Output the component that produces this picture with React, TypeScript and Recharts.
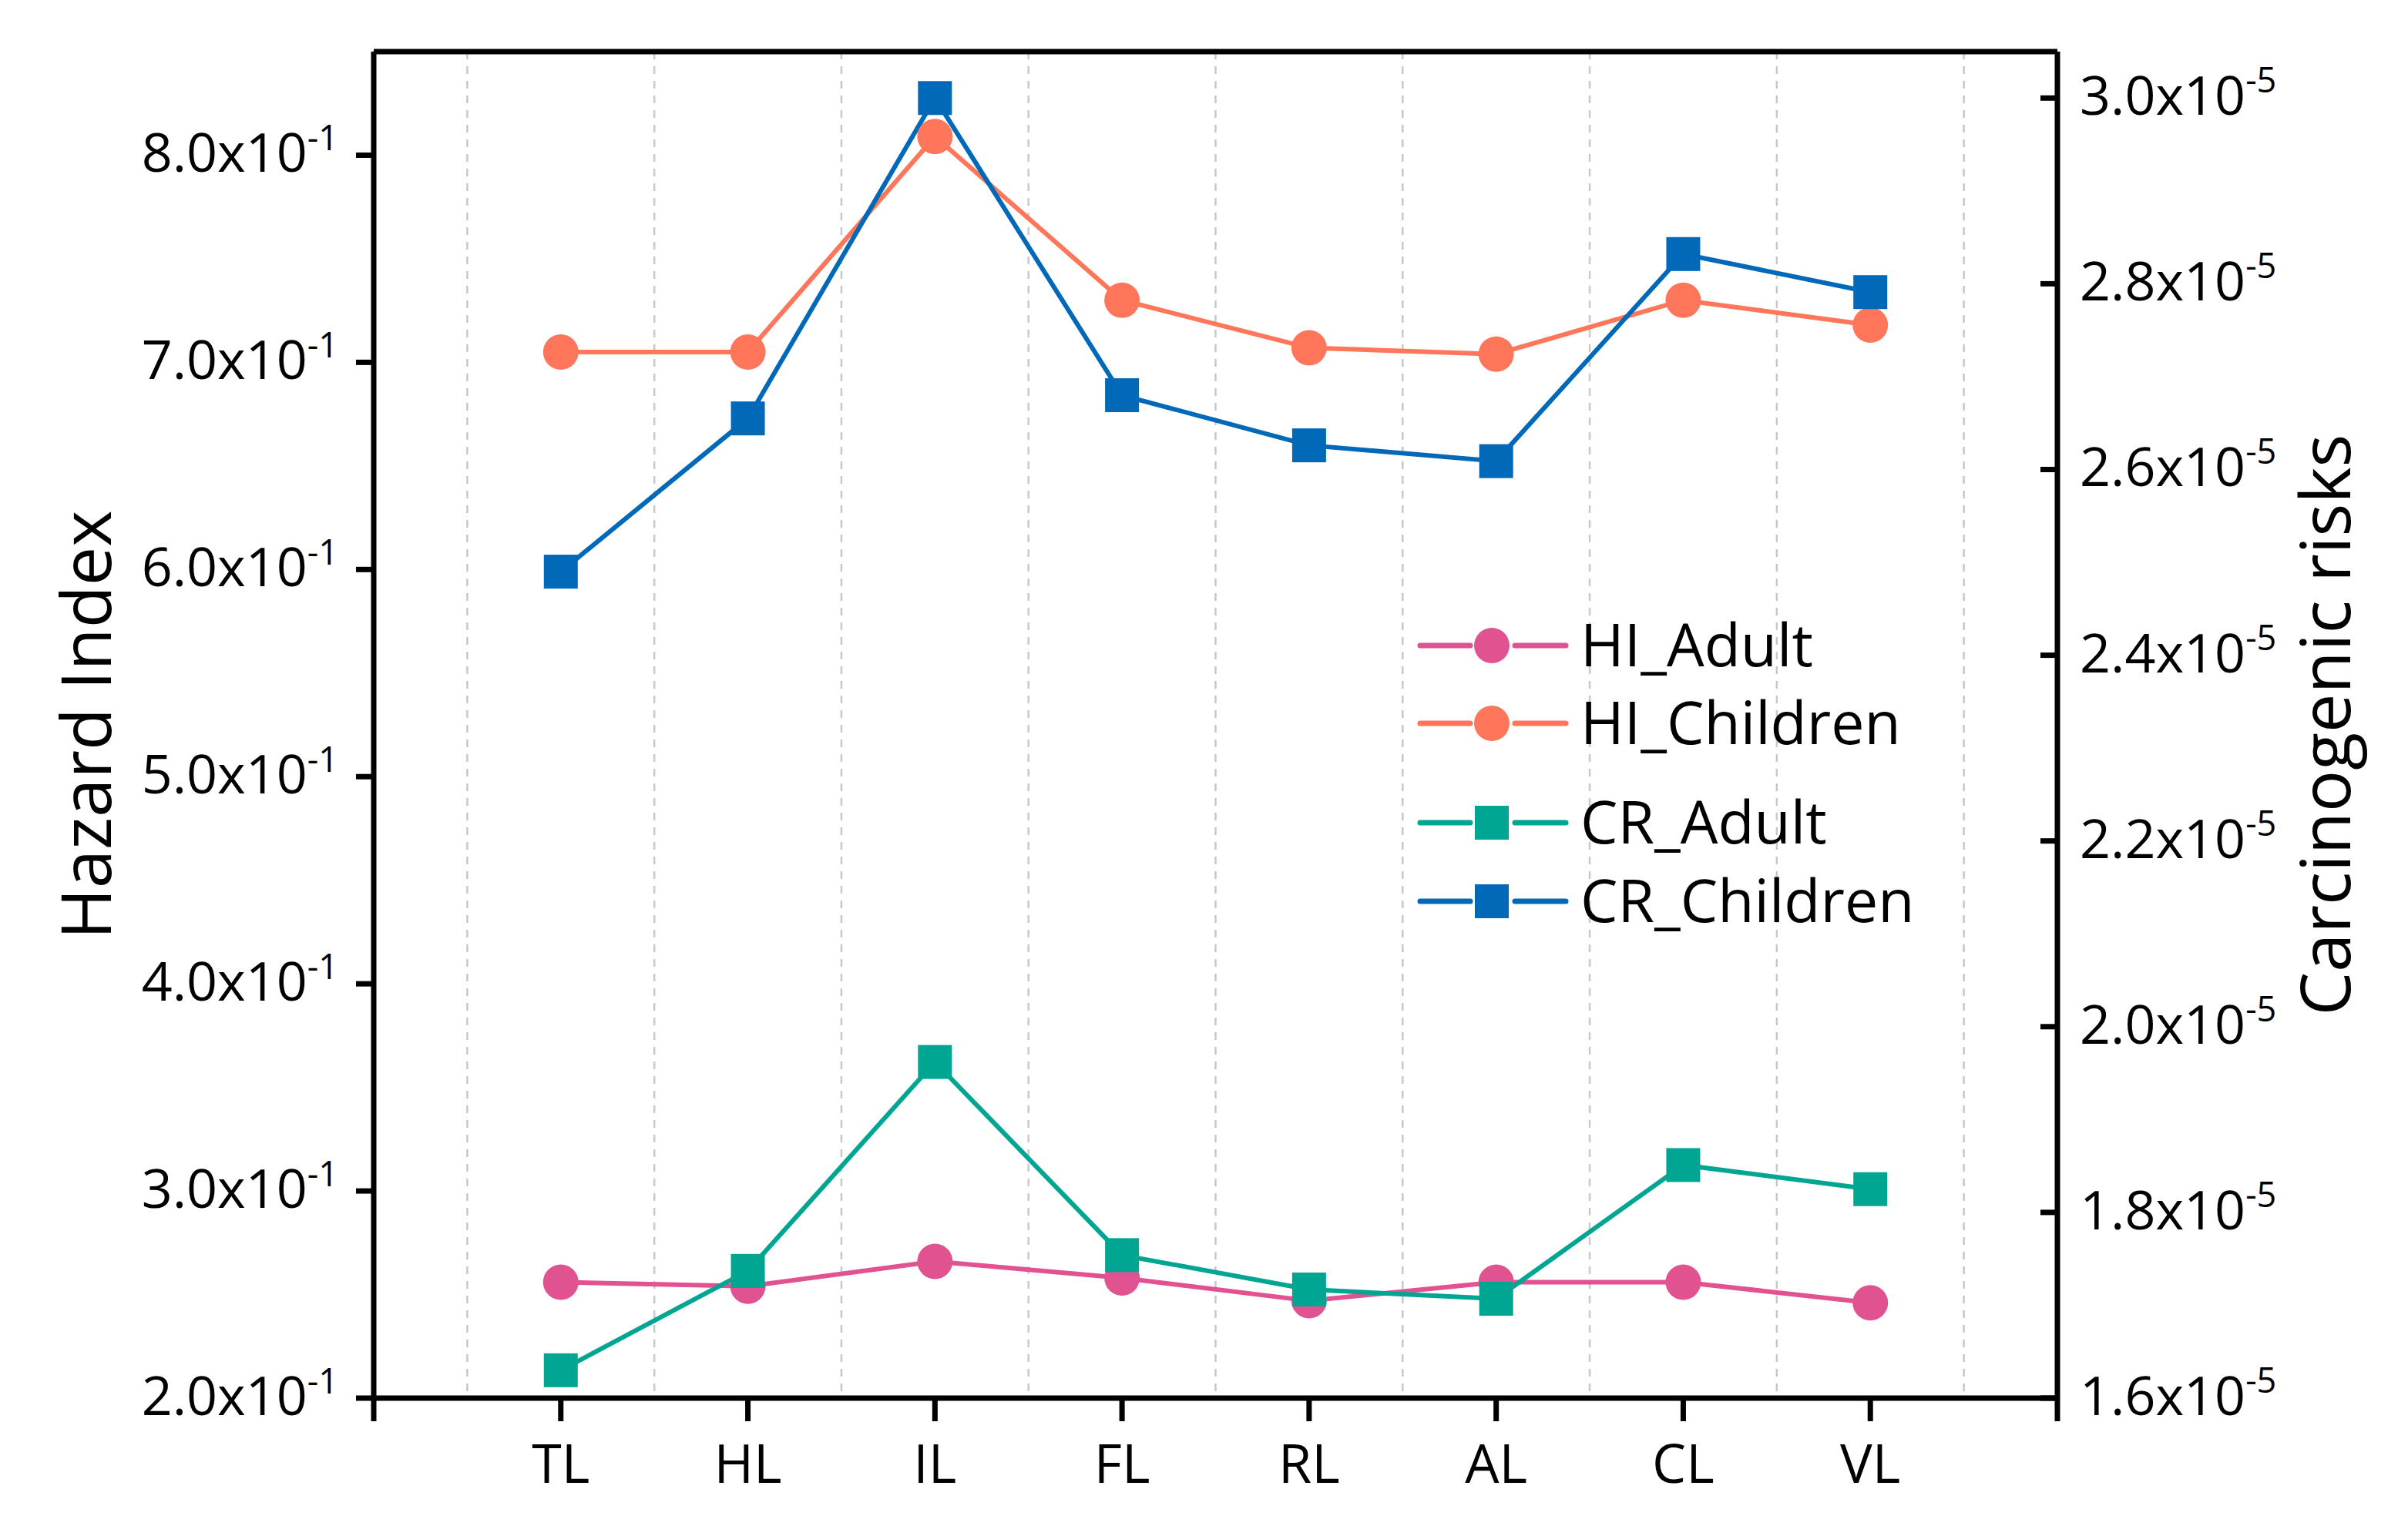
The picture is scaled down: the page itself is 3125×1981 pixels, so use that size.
import React from 'react';
import { LineChart, Line, XAxis, YAxis, CartesianGrid, Legend, ReferenceLine } from 'recharts';

// sampling sites along the x axis
const categories = ['TL', 'HL', 'IL', 'FL', 'RL', 'AL', 'CL', 'VL'];

// Hazard Index (left axis)
const hiAdult = [0.256, 0.254, 0.266, 0.258, 0.247, 0.256, 0.256, 0.246];
const hiChildren = [0.705, 0.705, 0.809, 0.73, 0.707, 0.704, 0.73, 0.718];

// Carcinogenic risks (right axis)
const crAdult = [1.63e-5, 1.737e-5, 1.962e-5, 1.754e-5, 1.717e-5, 1.707e-5, 1.851e-5, 1.825e-5];
const crChildren = [2.49e-5, 2.655e-5, 3.0e-5, 2.68e-5, 2.626e-5, 2.609e-5, 2.832e-5, 2.791e-5];

const xTicks = [0, 1, 2, 3, 4, 5, 6, 7, 8, 9];
const gridX = [0.5, 1.5, 2.5, 3.5, 4.5, 5.5, 6.5, 7.5, 8.5];
const leftTicks = [0.2, 0.3, 0.4, 0.5, 0.6, 0.7, 0.8];
const rightTicks = [1.6e-5, 1.8e-5, 2.0e-5, 2.2e-5, 2.4e-5, 2.6e-5, 2.8e-5, 3.0e-5];
const leftDomain = [0.2, 0.85];

const FONT = '"Open Sans", "Noto Sans", sans-serif';
const WEIGHT = 500;

const series = [
  { key: 'hiAdult', name: 'HI_Adult', color: '#E15290', axis: 'left', shape: 'circle' },
  { key: 'hiChildren', name: 'HI_Children', color: '#FF765A', axis: 'left', shape: 'circle' },
  { key: 'crAdult', name: 'CR_Adult', color: '#00A692', axis: 'right', shape: 'square' },
  { key: 'crChildren', name: 'CR_Children', color: '#0268B8', axis: 'right', shape: 'square' },
];

const data = categories.map((name, i) => ({
  x: i + 1,
  name,
  hiAdult: hiAdult[i],
  hiChildren: hiChildren[i],
  crAdult: crAdult[i],
  crChildren: crChildren[i],
}));

const makeDot = (color: string, shape: string) => (props: any) => {
  const { cx, cy, index } = props;
  if (cx == null || cy == null) return <g key={index} />;
  if (shape === 'circle') return <circle key={index} cx={cx} cy={cy} r={23} fill={color} />;
  return <rect key={index} x={cx - 22} y={cy - 22} width={44} height={44} fill={color} />;
};

function LeftTick({ x, y, payload }: any) {
  return (
    <text x={x} y={y + 22} textAnchor="end" fontFamily={FONT} fontWeight={WEIGHT} fontSize={70} fill="#000">
      <tspan>{(payload.value * 10).toFixed(1)}x10</tspan>
      <tspan dy={-28} fontSize={45}>-1</tspan>
    </text>
  );
}

function RightTick({ x, y, payload }: any) {
  return (
    <g>
      <line x1={x - 22} x2={x} y1={y} y2={y} stroke="#000" strokeWidth={7} />
      <text x={x + 29} y={y + 22} textAnchor="start" fontFamily={FONT} fontWeight={WEIGHT} fontSize={70} fill="#000">
        <tspan>{(payload.value * 1e5).toFixed(1)}x10</tspan>
        <tspan dy={-29} fontSize={45}>-5</tspan>
      </text>
    </g>
  );
}

function BottomTick({ x, y, payload }: any) {
  const label = categories[payload.value - 1] || '';
  return (
    <text x={x} y={y + 80} textAnchor="middle" fontFamily={FONT} fontWeight={WEIGHT} fontSize={70} fill="#000">
      {label}
    </text>
  );
}

const renderLegend = () => {
  const rows = [60, 161, 290, 392];
  return (
    <svg width={800} height={460} style={{ overflow: 'visible' }}>
      {series.map((s, i) => {
        const cy = rows[i];
        return (
          <g key={s.key}>
            <line x1={35} x2={100} y1={cy} y2={cy} stroke={s.color} strokeWidth={7} strokeLinecap="round" />
            <line x1={158} x2={224} y1={cy} y2={cy} stroke={s.color} strokeWidth={7} strokeLinecap="round" />
            {s.shape === 'circle' ? (
              <circle cx={128} cy={cy} r={23} fill={s.color} />
            ) : (
              <rect x={106} y={cy - 22} width={44} height={44} fill={s.color} />
            )}
            <text x={243} y={cy + 27} fontFamily={FONT} fontWeight={WEIGHT} fontSize={77} fill="#000">
              {s.name}
            </text>
          </g>
        );
      })}
    </svg>
  );
};

const axisStroke = { stroke: '#000', strokeWidth: 7 };

const axisTitle = (text: string, dx: number) => ({ viewBox }: any) => {
  const cx = viewBox.x + dx;
  const cy = viewBox.y + viewBox.height / 2;
  return (
    <text
      x={cx}
      y={cy}
      transform={`rotate(-90, ${cx}, ${cy})`}
      textAnchor="middle"
      fontFamily={FONT}
      fontWeight={WEIGHT}
      fontSize={90}
      fill="#000"
    >
      {text}
    </text>
  );
};

export default function App() {
  return (
    <div style={{ fontFamily: FONT }}>
      <LineChart
        width={3109}
        height={1965}
        data={data}
        margin={{ top: 59, right: 0, bottom: 0, left: 0 }}
      >
        <CartesianGrid
          xAxisId="bottom"
          yAxisId="left"
          horizontal={false}
          stroke="#c8c8c8"
          strokeWidth={2.5}
          strokeDasharray="10 9"
          verticalCoordinatesGenerator={({ xAxis, offset }: any) =>
            gridX.map((v) =>
              xAxis && typeof xAxis.scale === 'function'
                ? xAxis.scale(v)
                : offset.left + (v / 9) * offset.width
            )
          }
        />
        <XAxis
          xAxisId="bottom"
          dataKey="x"
          type="number"
          domain={[0, 9]}
          allowDataOverflow
          ticks={xTicks}
          interval={0}
          height={158}
          tickSize={30}
          tickMargin={0}
          axisLine={axisStroke}
          tickLine={axisStroke}
          tick={<BottomTick />}
        />
        <YAxis
          yAxisId="left"
          type="number"
          domain={leftDomain}
          allowDataOverflow
          ticks={leftTicks}
          interval={0}
          width={477}
          tickSize={23}
          tickMargin={23}
          axisLine={axisStroke}
          tickLine={axisStroke}
          tick={<LeftTick />}
          label={{ content: axisTitle('Hazard Index', 136) }}
        />
        <YAxis
          yAxisId="right"
          orientation="right"
          type="number"
          domain={[1.6e-5, 3.05e-5]}
          allowDataOverflow
          ticks={rightTicks}
          interval={0}
          width={447}
          tickSize={0}
          tickMargin={0}
          axisLine={axisStroke}
          tickLine={false}
          tick={<RightTick />}
          label={{ content: axisTitle('Carcinogenic risks', 380) }}
        />
        {/* top frame line */}
        <ReferenceLine
          xAxisId="bottom"
          yAxisId="left"
          y={leftDomain[1]}
          stroke="#000"
          strokeWidth={7}
          ifOverflow="visible"
        />
        <Legend
          layout="vertical"
          align="center"
          verticalAlign="middle"
          content={renderLegend}
          wrapperStyle={{ position: 'absolute', left: 1800, top: 770, width: 800, height: 460 }}
        />
        {series.map((s) => (
          <Line
            key={s.key}
            xAxisId="bottom"
            yAxisId={s.axis}
            type="linear"
            dataKey={s.key}
            name={s.name}
            stroke={s.color}
            strokeWidth={6}
            dot={makeDot(s.color, s.shape)}
            activeDot={false}
            isAnimationActive={false}
          />
        ))}
      </LineChart>
    </div>
  );
}
